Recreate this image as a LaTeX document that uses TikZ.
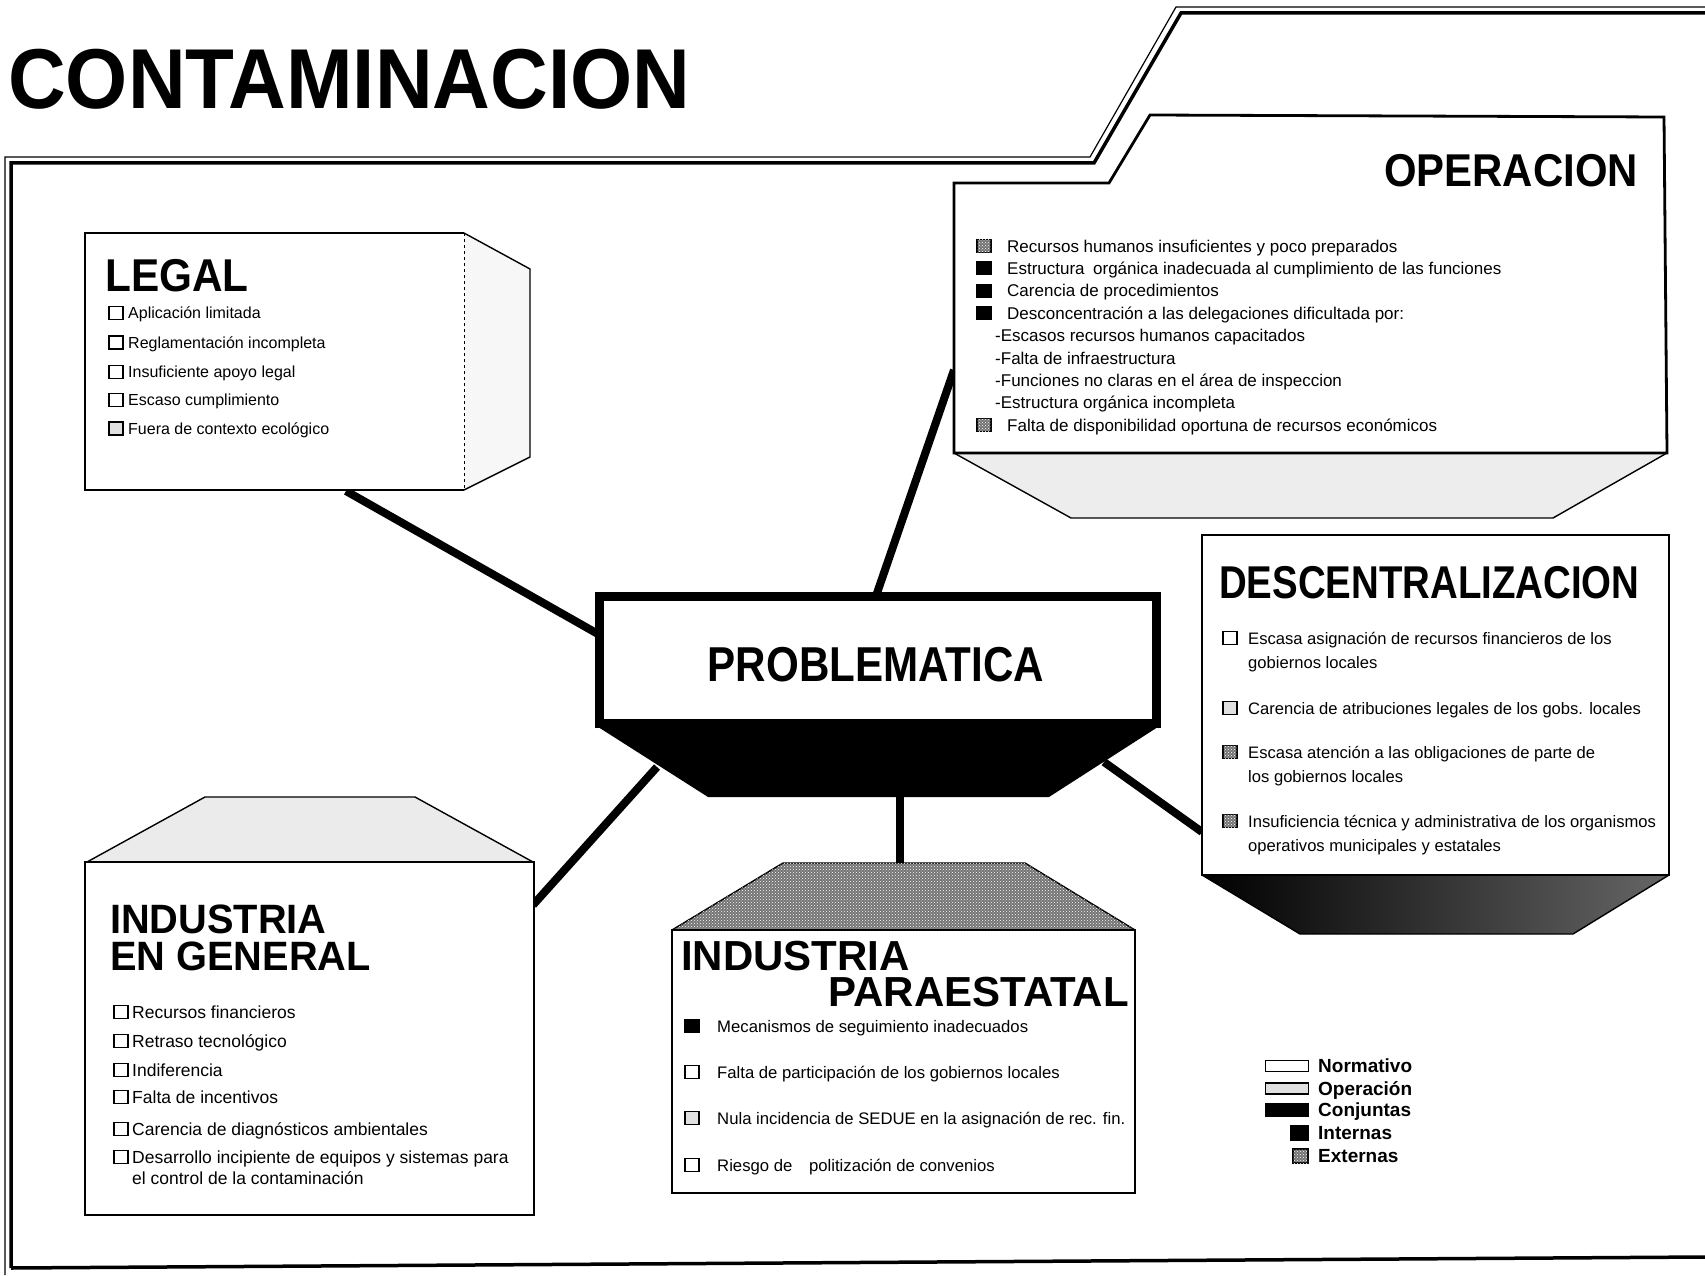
\documentclass[tikz,border=0pt]{standalone}
\usepackage{fontspec}
\setmainfont{Liberation Sans}
\usetikzlibrary{patterns}

\begin{document}
\begin{tikzpicture}[
  x=1pt, y=-1pt,
  link/.style={line width=8pt},
  edge/.style={line width=2.8pt, line join=miter},
  face/.style={line width=1.4pt, line join=miter},
  ttl/.style={anchor=base west, inner sep=0pt, font=\bfseries\fontsize{#1}{#1}\selectfont},
  itm/.style={anchor=base west, inner sep=0pt, font=\fontsize{#1}{#1}\selectfont},
  mk/.style={draw, line width=1.1pt, inner sep=0pt, minimum width=14pt, minimum height=13pt},
  normbox/.style={mk, fill=white},
  operbox/.style={mk, fill=black!12},
  intbox/.style={mk, fill=black},
  extbox/.style={mk, fill=black!55, postaction={pattern=crosshatch dots, pattern color=white}}
  ]
  \useasboundingbox (0,0) rectangle (1705,1276);
  % connection points
  \coordinate (legA)  at (346,491);
  \coordinate (probW) at (598,634);
  \coordinate (opA)   at (954,370);
  \coordinate (probN) at (876,596);
  \coordinate (indA)  at (533,905);
  \coordinate (probSW) at (657,767);
  \coordinate (parA)  at (900,864);
  \coordinate (probS) at (900,796);
  \coordinate (desA)  at (1202,832);
  \coordinate (probSE) at (1104,762);
  % outer frame
  \draw[line width=3.5pt, line join=miter] (11,1268) -- (11,163) -- (1094,163) -- (1181,13) -- (1705,13);
  \draw[line width=1.2pt, line join=miter] (5,1275) -- (5,157) -- (1090,157) -- (1176,7) -- (1705,7);
  \draw[line width=3.5pt] (11,1268) -- (1705,1257);
  \node[ttl=85] (titulo) at (8,109) {\scalebox{0.94}[1]{CONTAMINACION}};
  % links
  \draw[link] (legA) -- (probW);
  \draw[link] (opA) -- (probN);
  \draw[link] (indA) -- (probSW);
  \draw[link] (parA) -- (probS);
  \draw[link] (desA) -- (probSE);
  % problematica
  \fill (595,725) -- (1161,725) -- (1049,797) -- (708,797) -- cycle;
  \draw[line width=9pt, fill=white, line join=miter] (599.5,596.5) rectangle (1156.5,723);
  \node[ttl=49, anchor=base] (prob) at (876,681) {\scalebox{0.86}[1]{PROBLEMATICA}};
  % legal
  \draw[face, fill=black!3] (464,233) -- (530,269) -- (530,457) -- (464,490);
  \draw[edge, fill=white] (464,490) -- (85,490) -- (85,233) -- (464,233);
  \draw[dashed, line width=1pt] (464,233) -- (464,490);
  \node[ttl=46] (legal) at (105,291) {\scalebox{0.92}[1]{LEGAL}};
  \foreach \y/\k/\t in {313/normbox/Aplicación limitada, 342.5/normbox/Reglamentación incompleta,
      372/normbox/Insuficiente apoyo legal, 400/normbox/Escaso cumplimiento,
      428.5/operbox/Fuera de contexto ecológico}{
    \node[\k] at (116,\y) {};
    \node[itm=16] at (128,\y+5.8) {\t};
  }
  % operacion
  \draw[face, fill=black!7] (954,453) -- (1071,518) -- (1553,518) -- (1667,453);
  \draw[edge, fill=white] (954,183) -- (1109,183) -- (1150,115) -- (1664,117) -- (1667,453) -- (954,453) -- cycle;
  \node[ttl=46, anchor=base east] (oper) at (1638,187) {\scalebox{0.91}[1]{OPERACION}};
  \foreach \i/\k/\t in {0/extbox/Recursos humanos insuficientes y poco preparados,
      1/intbox/Estructura\enspace orgánica inadecuada al cumplimiento de las funciones,
      2/intbox/Carencia de procedimientos,
      3/intbox/Desconcentración a las delegaciones dificultada por:,
      8/extbox/Falta de disponibilidad oportuna de recursos económicos}{
    \node[\k] at (984,246+22.4*\i) {};
    \node[itm=17] at (1007,252+22.4*\i) {\t};
  }
  \foreach \i/\t in {4/Escasos recursos humanos capacitados, 5/Falta de infraestructura,
      6/Funciones no claras en el área de inspeccion, 7/Estructura orgánica incompleta}{
    \node[itm=17] at (995,252+22.4*\i) {-\t};
  }
  % descentralizacion
  \shade[left color=black, right color=black!60] (1202,875) -- (1669,875) -- (1573,934) -- (1300,934) -- cycle;
  \draw[face] (1202,875) -- (1300,934) -- (1573,934) -- (1669,875);
  \draw[edge, fill=white] (1202,535) rectangle (1669,875);
  \node[ttl=46] (desc) at (1219,598) {\scalebox{0.835}[1]{DESCENTRALIZACION}};
  \node[normbox] at (1230,638) {};
  \node[itm=16.6] at (1248,644) {Escasa asignación de recursos financieros de los};
  \node[itm=16.6] at (1248,668) {gobiernos locales};
  \node[operbox] at (1230,708) {};
  \node[itm=16.6] at (1248,714) {Carencia de atribuciones legales de los gobs. locales};
  \node[extbox] at (1230,752) {};
  \node[itm=16.6] at (1248,758) {Escasa atención a las obligaciones de parte de};
  \node[itm=16.6] at (1248,782) {los gobiernos locales};
  \node[extbox] at (1230,821) {};
  \node[itm=16.6] at (1248,827) {Insuficiencia técnica y administrativa de los organismos};
  \node[itm=16.6] at (1248,851) {operativos municipales y estatales};
  % industria en general
  \draw[face, fill=black!8] (87,862) -- (205,797) -- (415,797) -- (533,862);
  \draw[edge, fill=white] (85,862) rectangle (534,1215);
  \node[ttl=41] (indg) at (110,933) {\scalebox{0.97}[1]{INDUSTRIA}};
  \node[ttl=41] at (110,970) {\scalebox{0.97}[1]{EN GENERAL}};
  \foreach \y/\t in {1012/Recursos financieros, 1041/Retraso tecnológico, 1070/Indiferencia,
      1097/Falta de incentivos, 1129/Carencia de diagnósticos ambientales,
      1157/Desarrollo incipiente de equipos y sistemas para}{
    \node[normbox] at (121,\y) {};
    \node[itm=17.5] at (132,\y+6.2) {\t};
  }
  \node[itm=17.5] at (132,1184) {el control de la contaminación};
  % industria paraestatal
  \draw[face, fill=black!55, postaction={pattern=crosshatch dots, pattern color=white}]
    (672,930) -- (783,863) -- (1025,863) -- (1135,930);
  \draw[edge, fill=white] (672,930) rectangle (1135,1193);
  \node[ttl=42] (indp) at (681,970) {INDUSTRIA};
  \node[ttl=42, anchor=base east] at (1129,1006) {PARAESTATAL};
  \foreach \y/\k/\t in {1026/intbox/Mecanismos de seguimiento inadecuados,
      1072/normbox/Falta de participación de los gobiernos locales,
      1118/operbox/Nula incidencia de SEDUE en la asignación de rec. fin.,
      1165/normbox/Riesgo de\quad politización de convenios}{
    \node[\k] at (692,\y) {};
    \node[itm=16.7] at (717,\y+6) {\t};
  }
  % legend
  \node[normbox, minimum width=43pt, minimum height=11pt] at (1287,1066) {};
  \node[operbox, minimum width=43pt, minimum height=11pt] at (1287,1088.5) {};
  \node[intbox, minimum width=43pt, minimum height=13pt] at (1287,1110) {};
  \node[intbox, minimum width=17pt, minimum height=15pt] at (1299.5,1133) {};
  \node[extbox, minimum width=15pt, minimum height=14pt] at (1300.5,1156) {};
  \foreach \y/\t in {1066/Normativo, 1088.5/Operación, 1110/Conjuntas, 1133/Internas, 1156/Externas}{
    \node[itm=19, font=\bfseries\fontsize{19}{19}\selectfont] at (1318,\y+6.8) {\t};
  }
\end{tikzpicture}
\end{document}
